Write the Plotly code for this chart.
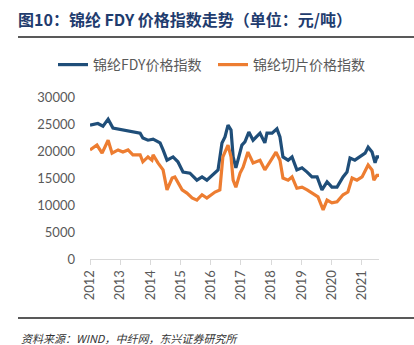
import plotly.graph_objects as go

# Decimal-year positions and values
fdy_x = [2012.00, 2012.26, 2012.43, 2012.60, 2012.76, 2013.09, 2013.42, 2013.66, 2013.75, 2013.92,
         2014.09, 2014.32, 2014.42, 2014.55, 2014.75, 2014.91, 2015.08, 2015.31, 2015.54, 2015.71,
         2015.87, 2016.14, 2016.24, 2016.37, 2016.47, 2016.57, 2016.67, 2016.74, 2016.83, 2016.90,
         2017.03, 2017.13, 2017.26, 2017.40, 2017.63, 2017.79, 2017.86, 2018.03, 2018.19, 2018.29,
         2018.39, 2018.56, 2018.69, 2018.85, 2019.02, 2019.19, 2019.35, 2019.52, 2019.68, 2019.85,
         2020.01, 2020.18, 2020.38, 2020.51, 2020.61, 2020.77, 2020.94, 2021.11, 2021.21, 2021.34,
         2021.44, 2021.50, 2021.57]
fdy_y = [24800, 25100, 24600, 25900, 24250, 23900, 23600, 23300, 22400, 22000,
         22200, 21500, 20200, 18300, 18900, 18000, 16100, 15900, 14600, 15200,
         14600, 16100, 16500, 21500, 22600, 24800, 23900, 18900, 16900, 18300,
         21100, 21700, 23500, 22000, 23300, 21500, 23300, 23300, 24100, 22600,
         18900, 18300, 18900, 16500, 16900, 16100, 15200, 15200, 12800, 14300,
         13300, 13300, 15200, 16100, 18700, 18300, 18900, 19600, 20700, 19800,
         17800, 18900, 18900]

chip_x = [2012.00, 2012.23, 2012.40, 2012.60, 2012.73, 2012.93, 2013.09, 2013.26, 2013.42, 2013.66,
          2013.75, 2013.92, 2014.05, 2014.09, 2014.25, 2014.42, 2014.55, 2014.72, 2014.81, 2015.05,
          2015.21, 2015.38, 2015.54, 2015.71, 2015.87, 2016.14, 2016.30, 2016.40, 2016.57, 2016.67,
          2016.74, 2016.83, 2016.97, 2017.07, 2017.23, 2017.40, 2017.63, 2017.79, 2017.96, 2018.16,
          2018.29, 2018.39, 2018.56, 2018.69, 2018.85, 2019.02, 2019.19, 2019.38, 2019.55, 2019.72,
          2019.85, 2020.01, 2020.18, 2020.38, 2020.54, 2020.68, 2020.84, 2021.01, 2021.17, 2021.21,
          2021.34, 2021.40, 2021.50, 2021.57]
chip_y = [20200, 21100, 19600, 22000, 19600, 20200, 19800, 20200, 19300, 19300,
          18000, 18900, 18300, 19300, 17800, 16500, 12800, 15000, 15200, 12800,
          12200, 11300, 10900, 11900, 11300, 12400, 12800, 18900, 21100, 18900,
          14600, 13300, 15900, 17000, 19800, 17800, 18300, 16500, 18000, 19800,
          18300, 15000, 14600, 15200, 13100, 13300, 12800, 12200, 11500, 9100,
          10900, 10400, 10600, 11900, 12400, 15000, 14600, 15200, 16900, 17400,
          16500, 14600, 15500, 15500]

year_ticks = [2012, 2013, 2014, 2015, 2016, 2017, 2018, 2019, 2020, 2021]
year_labels = [str(y) for y in year_ticks]
y_ticks = [0, 5000, 10000, 15000, 20000, 25000, 30000]
y_labels = [str(v) for v in y_ticks]

title_text = "图10：锦纶 FDY 价格指数走势（单位：元/吨）"
source_text = "资料来源：WIND，中纤网，东兴证券研究所"
name_fdy = "锦纶FDY价格指数"
name_chip = "锦纶切片价格指数"

W, H = 414, 345
L, R, T, B = 90, 35, 97, 86
pw, ph = W - L - R, H - T - B

def px_x(p):
    return (p - L) / pw

def px_y(p):
    return (H - B - p) / ph

fig = go.Figure()
fig.add_trace(go.Scatter(x=fdy_x, y=fdy_y, mode="lines", name=name_fdy, legend="legend",
                         line=dict(color="#1f4e79", width=3.2)))
fig.add_trace(go.Scatter(x=chip_x, y=chip_y, mode="lines", name=name_chip, legend="legend2",
                         line=dict(color="#ed7d31", width=3.2)))

font_cjk = "Noto Sans CJK SC"
leg_font = dict(family=font_cjk, size=14, color="#595959")
fig.update_layout(
    width=W, height=H,
    margin=dict(l=L, r=R, t=T, b=B, autoexpand=False),
    paper_bgcolor="white", plot_bgcolor="white",
    title=dict(text="<b>" + title_text + "</b>", xref="container", yref="container",
               x=18 / W, y=1 - 20 / H, xanchor="left", yanchor="middle",
               font=dict(family=font_cjk, size=16, color="#1f3c6e")),
    legend=dict(xref="container", yref="container",
                x=53 / W, y=1 - 65 / H, xanchor="left", yanchor="middle",
                font=leg_font, itemwidth=30, bgcolor="rgba(0,0,0,0)"),
    legend2=dict(xref="container", yref="container",
                 x=213 / W, y=1 - 65 / H, xanchor="left", yanchor="middle",
                 font=leg_font, itemwidth=30, bgcolor="rgba(0,0,0,0)"),
    xaxis=dict(range=[2012, 2021.57], tickmode="array", tickvals=year_ticks,
               ticktext=year_labels, tickangle=-90, showgrid=False, zeroline=False,
               showline=True, linecolor="#d9d9d9", linewidth=1,
               ticks="outside", ticklen=5, tickcolor="#d9d9d9",
               tickfont=dict(family="Lato", size=13, color="#595959")),
    yaxis=dict(range=[0, 30000], tickmode="array", tickvals=y_ticks, ticktext=y_labels,
               showgrid=False, zeroline=False, showline=False, ticks="",
               ticklabelstandoff=14,
               tickfont=dict(family="Lato", size=13, color="#595959")),
    showlegend=True,
)

fig.add_shape(type="line", xref="paper", yref="paper",
              x0=px_x(18), x1=px_x(414), y0=px_y(37), y1=px_y(37),
              line=dict(color="#222222", width=1.5))
fig.add_shape(type="line", xref="paper", yref="paper",
              x0=px_x(18), x1=px_x(414), y0=px_y(318), y1=px_y(318),
              line=dict(color="#222222", width=1.5))
fig.add_annotation(text="<i>" + source_text + "</i>", xref="paper", yref="paper",
                   x=px_x(19), y=px_y(338), xanchor="left", yanchor="middle",
                   showarrow=False, font=dict(family=font_cjk, size=11, color="#333333"))

fig.write_html("out.html")
